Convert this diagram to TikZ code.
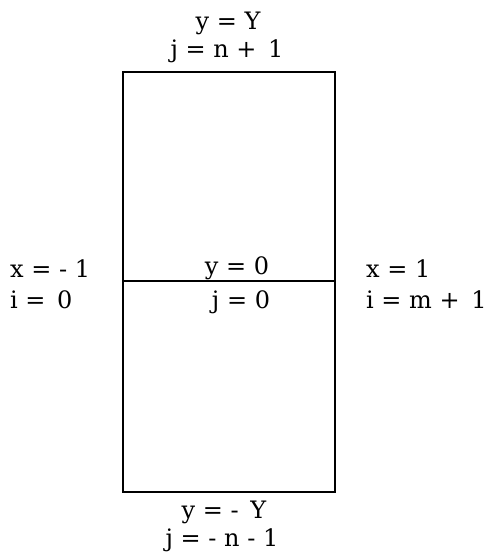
\documentclass[tikz,border=0pt]{standalone}
\usepackage{fontspec}
\setmainfont{DejaVu Serif}
\begin{document}
\begin{tikzpicture}[x=1pt,y=-1pt,
  lbl/.style={inner sep=0pt,font=\fontsize{24}{28}\selectfont},
  box/.style={line width=2pt}]
\useasboundingbox (0,0) rectangle (497,557);
\coordinate (tl) at (123,72);
\coordinate (br) at (335,492);
\coordinate (ml) at (123,281);
\coordinate (mr) at (334,281);
\draw[box] (tl) rectangle (br);
\draw[box] (ml) -- (mr);
\node[lbl,anchor=base] (yY) at (228,29) {y = Y};
\node[lbl,anchor=base] (jn1) at (227,57) {j = n + \,1};
\node[lbl,anchor=base] (y0) at (237,274) {y = 0};
\node[lbl,anchor=base] (j0) at (241,308) {j = 0};
\node[lbl,anchor=base west] (xm1) at (10,277) {x = - 1};
\node[lbl,anchor=base west] (i0) at (10,308) {i = \,0};
\node[lbl,anchor=base west] (x1) at (366,277) {x = 1};
\node[lbl,anchor=base west] (im1) at (366,308) {i = m + \,1};
\node[lbl,anchor=base] (ymY) at (224,518) {y = - \,Y};
\node[lbl,anchor=base] (jmn) at (222,546) {j = - n - 1};
\end{tikzpicture}
\end{document}
